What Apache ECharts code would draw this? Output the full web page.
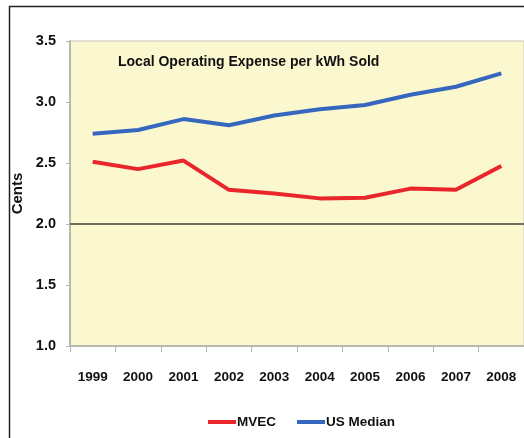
<!DOCTYPE html>
<html>
<head>
<meta charset="utf-8">
<script src="https://cdn.jsdelivr.net/npm/echarts@6/dist/echarts.min.js"></script>
<style>
html,body{margin:0;padding:0;background:#fff;}
#c{width:524px;height:438px;}
</style>
</head>
<body>
<div id="c"></div>
<script>
var years = ['1999','2000','2001','2002','2003','2004','2005','2006','2007','2008'];
var mvec = [2.51, 2.45, 2.52, 2.28, 2.25, 2.21, 2.215, 2.29, 2.28, 2.475];
var usMedian = [2.74, 2.77, 2.86, 2.81, 2.89, 2.94, 2.975, 3.06, 3.125, 3.235];
var yTicks = [1.0, 1.5, 2.0, 2.5, 3.0, 3.5];
var titleText = 'Local Operating Expense per kWh Sold';
var yName = 'Cents';

var FONT = '"Liberation Sans Narrow", "Arial Narrow", Arial, sans-serif';
var chart = echarts.init(document.getElementById('c'), null, {renderer: 'canvas'});
chart.setOption({
  animation: false,
  backgroundColor: '#ffffff',
  grid: {left: 70, top: 41, right: -6, bottom: 92, show: true,
         backgroundColor: '#FBF7CE', borderColor: '#c9c7b8', borderWidth: 1},
  xAxis: {
    type: 'category', data: years, boundaryGap: true,
    axisLine: {show: true, lineStyle: {color: '#b9b8ae', width: 2}},
    axisTick: {show: true, interval: 0, length: 6, lineStyle: {color: '#b9b8ae'}},
    axisLabel: {margin: 24, color: '#111', fontFamily: FONT, fontWeight: 'bold', fontSize: 13.5, interval: 0},
    splitLine: {show: false}
  },
  yAxis: {
    type: 'value', min: 1.0, max: 3.5, interval: 0.5,
    name: yName, nameLocation: 'middle', nameGap: 37, nameRotate: 90,
    nameTextStyle: {color: '#111', fontFamily: 'Arial, "Liberation Sans", sans-serif', fontWeight: 'bold', fontSize: 15, padding: [0,0,4,0]},
    axisLine: {show: true, lineStyle: {color: '#b9b8ae', width: 2}},
    axisTick: {show: true, length: 4, lineStyle: {color: '#b9b8ae'}},
    axisLabel: {margin: 14, color: '#111', fontFamily: FONT, fontWeight: 'bold', fontSize: 14.5,
      formatter: function(v){ return v.toFixed(1); }},
    splitLine: {show: false}
  },
  legend: {
    bottom: 4, left: 203, itemGap: 21, itemWidth: 28, itemHeight: 4,
    icon: 'rect',
    textStyle: {color: '#111', fontFamily: FONT, fontWeight: 'bold', fontSize: 13.5, padding: [0,0,0,-4]},
    data: ['MVEC', 'US Median']
  },
  graphic: [
    {type: 'rect', shape: {x: 9.5, y: 6.5, width: 600, height: 600}, style: {fill: 'none', stroke: '#222', lineWidth: 1.5}, silent: true, z: 100},
    {type: 'text', left: 118, top: 55, style: {text: titleText, fill: '#111', font: 'bold 14px ' + FONT}, z: 100}
  ],
  series: [
    {name: 'MVEC', type: 'line', data: mvec, symbol: 'none', smooth: false,
     lineStyle: {color: '#E8262C', width: 4}, itemStyle: {color: '#E8262C'},
     markLine: {silent: true, symbol: 'none', label: {show: false},
       lineStyle: {color: '#6e6c5e', width: 2, type: 'solid'}, data: [{yAxis: 2.0}]}},
    {name: 'US Median', type: 'line', data: usMedian, symbol: 'none', smooth: false,
     lineStyle: {color: '#3567BE', width: 4}, itemStyle: {color: '#3567BE'}}
  ]
});
</script>
</body>
</html>
